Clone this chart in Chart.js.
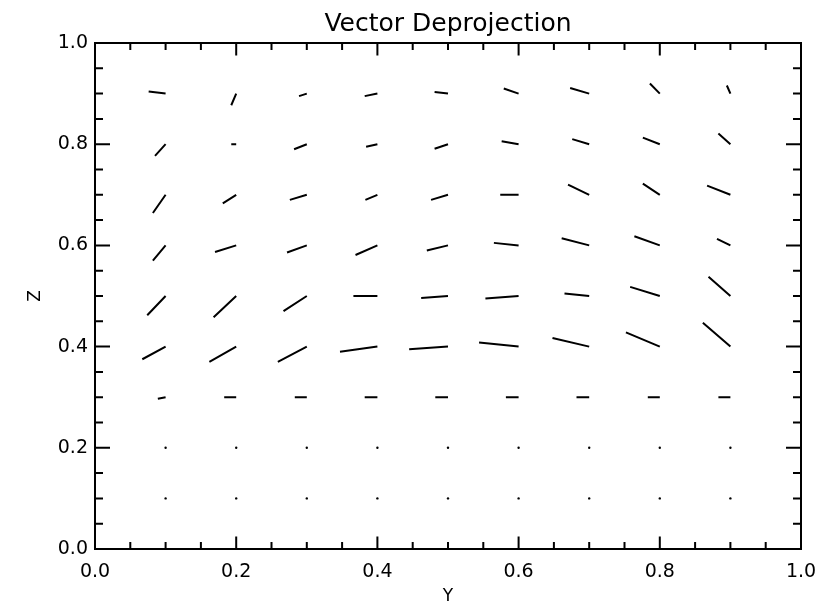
<!DOCTYPE html>
<html><head><meta charset="utf-8">
<script src="https://cdn.jsdelivr.net/npm/chart.js@4.4.1/dist/chart.umd.min.js"></script>
<style>html,body{margin:0;padding:0;background:#fff;}canvas{display:block;}</style>
</head><body>
<canvas id="c" width="834" height="613"></canvas>
<script>
const chartTitle = 'Vector Deprojection';
const xAxisTitle = 'Y';
const yAxisTitle = 'Z';
const gridY = [0.1, 0.2, 0.3, 0.4, 0.5, 0.6, 0.7, 0.8, 0.9];
const gridZ = [0.1, 0.2, 0.3, 0.4, 0.5, 0.6, 0.7, 0.8, 0.9];
const tickValues = [0, 0.2, 0.4, 0.6, 0.8, 1.0];
const tickLabels = ['0.0', '0.2', '0.4', '0.6', '0.8', '1.0'];
const minorTickValues = [0.05, 0.1, 0.15, 0.25, 0.3, 0.35, 0.45, 0.5, 0.55, 0.65, 0.7, 0.75, 0.85, 0.9, 0.95];

// vector components (head minus tail), one array per Z row, columns follow gridY
const uZ01 = [0, 0, 0, 0, 0, 0, 0, 0, 0];
const vZ01 = [0, 0, 0, 0, 0, 0, 0, 0, 0];
const uZ02 = [0, 0, 0, 0, 0, 0, 0, 0, 0];
const vZ02 = [0, 0, 0, 0, 0, 0, 0, 0, 0];
const uZ03 = [0.011, 0.017, 0.017, 0.018, 0.018, 0.018, 0.018, 0.017, 0.017];
const vZ03 = [0.003, 0, 0, 0, 0, 0, 0, 0, 0];
const uZ04 = [0.033, 0.038, 0.041, 0.053, 0.055, 0.056, 0.052, 0.048, 0.039];
const vZ04 = [0.025, 0.030, 0.030, 0.010, 0.005, -0.008, -0.017, -0.028, -0.047];
const uZ05 = [0.026, 0.032, 0.033, 0.034, 0.038, 0.047, 0.035, 0.042, 0.031];
const vZ05 = [0.038, 0.042, 0.030, 0.000, 0.004, 0.005, -0.005, -0.018, -0.038];
const uZ06 = [0.018, 0.030, 0.028, 0.031, 0.030, 0.035, 0.039, 0.036, 0.019];
const vZ06 = [0.030, 0.013, 0.014, 0.019, 0.010, -0.005, -0.014, -0.018, -0.013];
const uZ07 = [0.018, 0.019, 0.024, 0.017, 0.024, 0.026, 0.030, 0.024, 0.033];
const vZ07 = [0.036, 0.017, 0.010, 0.010, 0.010, 0.000, -0.020, -0.022, -0.018];
const uZ08 = [0.015, 0.007, 0.018, 0.016, 0.019, 0.024, 0.024, 0.024, 0.017];
const vZ08 = [0.023, 0.000, 0.010, 0.005, 0.009, -0.006, -0.010, -0.013, -0.021];
const uZ09 = [0.024, 0.007, 0.011, 0.018, 0.019, 0.021, 0.027, 0.014, 0.005];
const vZ09 = [-0.004, 0.023, 0.005, 0.005, -0.003, -0.010, -0.011, -0.020, -0.016];

const uRows = [uZ01, uZ02, uZ03, uZ04, uZ05, uZ06, uZ07, uZ08, uZ09];
const vRows = [vZ01, vZ02, vZ03, vZ04, vZ05, vZ06, vZ07, vZ08, vZ09];

const segPts = [];
const dotPts = [];
gridZ.forEach((z, r) => {
  gridY.forEach((yv, c) => {
    const du = uRows[r][c], dv = vRows[r][c];
    if (du === 0 && dv === 0) { dotPts.push({x: yv, y: z}); return; }
    segPts.push({x: yv - du, y: z - dv}, {x: yv, y: z}, {x: yv, y: null});
  });
});

const framePlugin = {
  id: 'frameTicks',
  afterDatasetsDraw(chart) {
    const {ctx, chartArea: a, scales} = chart;
    const xs = scales.x, ys = scales.y;
    ctx.save();
    ctx.strokeStyle = '#000';
    ctx.lineWidth = 2;
    ctx.strokeRect(a.left, a.top, a.right - a.left, a.bottom - a.top);
    ctx.beginPath();
    const all = tickValues.map(v => [v, true]).concat(minorTickValues.map(v => [v, false]));
    for (const [v, major] of all) {
      const lx = major ? 12.5 : 7;
      const ly = major ? 15 : 8;
      const px = xs.getPixelForValue(v);
      ctx.moveTo(px, a.bottom); ctx.lineTo(px, a.bottom - lx);
      ctx.moveTo(px, a.top); ctx.lineTo(px, a.top + lx);
      const py = ys.getPixelForValue(v);
      ctx.moveTo(a.left, py); ctx.lineTo(a.left + ly, py);
      ctx.moveTo(a.right, py); ctx.lineTo(a.right - ly, py);
    }
    ctx.stroke();
    ctx.restore();
  }
};

const FONT = 'DejaVu Sans';
new Chart(document.getElementById('c'), {
  type: 'scatter',
  data: {
    datasets: [
      {data: segPts, showLine: true, spanGaps: false, borderColor: '#000', borderWidth: 2,
       borderCapStyle: 'butt', pointRadius: 0, pointHoverRadius: 0, tension: 0},
      {data: dotPts, showLine: false, pointRadius: 1.2, pointBackgroundColor: '#000',
       pointBorderWidth: 0, pointHoverRadius: 0}
    ]
  },
  options: {
    responsive: false,
    animation: false,
    devicePixelRatio: 1,
    events: [],
    layout: {padding: {left: 20, right: 33, top: 0, bottom: 0}},
    plugins: {
      legend: {display: false},
      tooltip: {enabled: false},
      title: {display: true, text: chartTitle, fullSize: false, color: '#000',
              font: {family: FONT, size: 25, weight: 'normal', lineHeight: 1.2},
              padding: {top: 9.3, bottom: 3.7}}
    },
    scales: {
      x: {
        type: 'linear', min: 0, max: 1,
        grid: {display: false, drawTicks: false},
        border: {display: false},
        afterBuildTicks: s => { s.ticks = tickValues.map(v => ({value: v})); },
        ticks: {callback: (v, i) => tickLabels[i], padding: 12, color: '#000', autoSkip: false, maxRotation: 0,
                font: {family: FONT, size: 19}},
        title: {display: true, text: xAxisTitle, color: '#000', font: {family: FONT, size: 17},
                padding: {top: 0, bottom: 6.3}},
        afterFit: s => { s.height = 64; }
      },
      y: {
        type: 'linear', min: 0, max: 1,
        grid: {display: false, drawTicks: false},
        border: {display: false},
        afterBuildTicks: s => { s.ticks = tickValues.map(v => ({value: v})); },
        ticks: {callback: (v, i) => tickLabels[i], padding: 7, color: '#000', autoSkip: false,
                font: {family: FONT, size: 19}},
        title: {display: true, text: yAxisTitle, color: '#000', font: {family: FONT, size: 17},
                padding: {top: 5, bottom: 0}},
        afterFit: s => { s.width = 75; }
      }
    }
  },
  plugins: [framePlugin]
});
</script>
</body></html>
